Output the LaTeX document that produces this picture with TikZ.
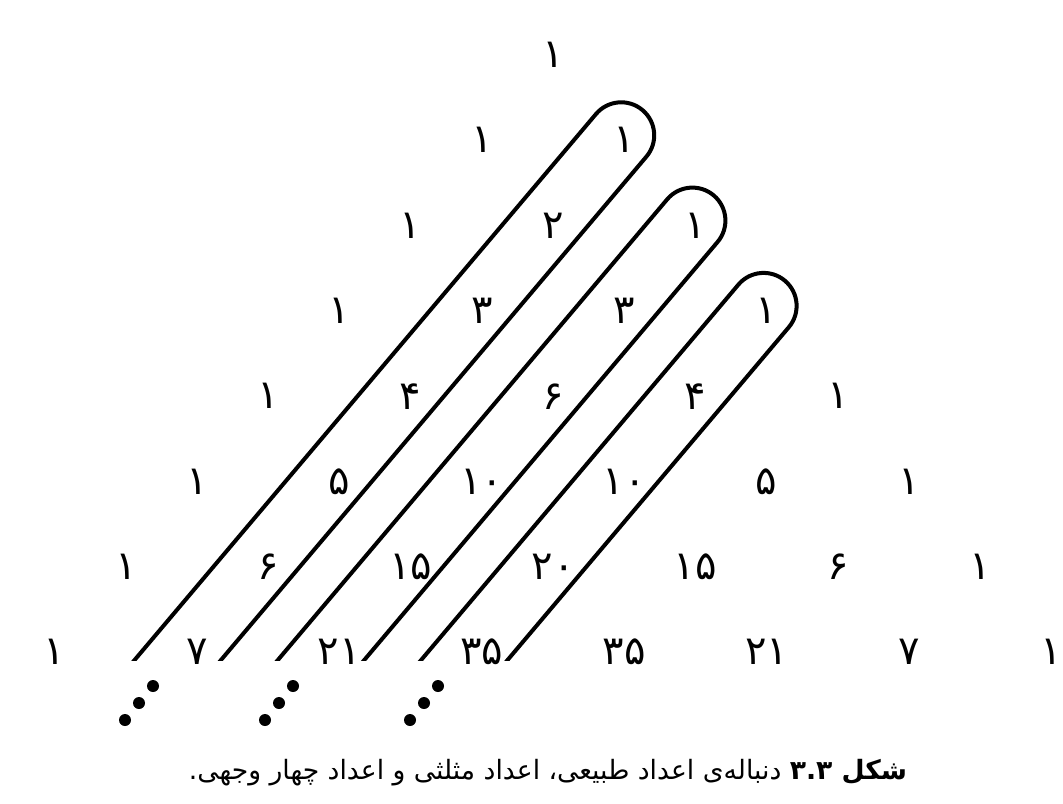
\documentclass[tikz,border=0pt]{standalone}
\usepackage{fontspec}
\newfontfamily\arabicfont[Script=Arabic]{DejaVu Sans}
\TeXXeTstate=1
\usetikzlibrary{calc}

\begin{document}
\begin{tikzpicture}[x=0.5pt, y=0.5pt,
  num/.style={font=\arabicfont\fontsize{20}{24}\selectfont, inner sep=0pt},
  loopline/.style={line width=2pt},
  dot/.style={fill=black},
  caption/.style={font=\arabicfont\fontsize{13.3}{16}\selectfont, inner sep=0pt}]
\useasboundingbox (0,0) rectangle (1063,-803);
% Pascal triangle, row by row
\foreach \vals [count=\row from 0] in {{۱}, {۱,۱}, {۱,۲,۱}, {۱,۳,۳,۱}, {۱,۴,۶,۴,۱},
    {۱,۵,۱۰,۱۰,۵,۱}, {۱,۶,۱۵,۲۰,۱۵,۶,۱}, {۱,۷,۲۱,۳۵,۳۵,۲۱,۷,۱}} {
  \foreach \v [count=\col from 0] in \vals
    \node[num] (n-\row-\col) at ({553+(2*\col-\row)*71.2}, {-55-\row*85.3}) {\v};
}
% loops round the three diagonals, cut off at the bottom row
\begin{scope}
  \clip (0,-660) rectangle (1063,0);
  \foreach \d in {1,2,3}
    \draw[loopline, shift={($(n-\d-\d)+(-3,5)$)}, rotate=49.8]
      (-1000,33) -- (0,33) arc[start angle=90, end angle=-90, radius=33] -- (-1000,-33);
\end{scope}
% dots below each loop
\foreach \x in {153,293,438}
  \foreach \i in {0,1,2}
    \fill[dot] ({\x-14*\i}, {-686-17*\i}) circle (6);
% caption
\node[caption] (cap) at (548,-773) {\beginR{\bfseries شکل ۳.۳} دنباله‌ی اعداد طبیعی\kern0pt، اعداد مثلثی و اعداد چهار وجهی\kern0pt.\endR};
\end{tikzpicture}
\end{document}
